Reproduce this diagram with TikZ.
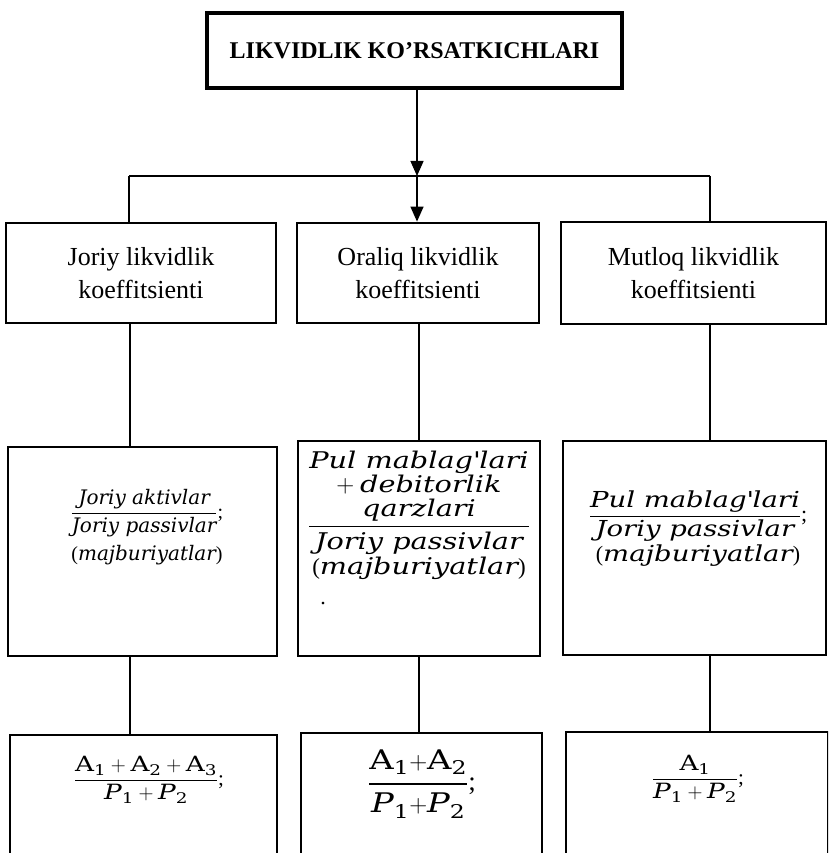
\documentclass[tikz,border=0pt]{standalone}
\usepackage{fontspec}
\usepackage{amsmath}
\setmainfont{Liberation Serif}
\newfontfamily\formfont[FakeStretch=1.25]{DejaVu Serif}
\newfontfamily\formfontn{DejaVu Serif}
\usetikzlibrary{arrows.meta}

% harflar: A -- tik, P -- kursiv
\newcommand{\vA}[1]{\text{\formfont A}_{\text{\formfont #1}}}
\newcommand{\vP}[1]{\text{\formfont\itshape P}_{\text{\formfont #1}}}
\newcommand{\w}[1]{\text{\formfont\itshape #1}}
\newcommand{\wn}[1]{\text{\formfontn\itshape #1}}

\tikzset{
  headbox/.style={draw, line width=3.6pt, minimum width=415pt, minimum height=75pt,
    font=\fontsize{24}{27}\selectfont\bfseries},
  koefbox/.style={draw, line width=2.8pt, minimum height=100pt, align=center,
    font=\fontsize{26}{33}\selectfont},
  formbox/.style={draw, line width=1.3pt},
  formtext/.style={align=center, inner sep=0pt},
  link/.style={line width=1.3pt},
  tip/.style={-{Triangle[length=15pt,width=13pt]}},
}

\begin{document}
\begin{tikzpicture}[x=1pt,y=-1pt]
  \useasboundingbox (0,0) rectangle (828,853);
  \clip (0,0) rectangle (828,853);

  \node[headbox] (head) at (414.5,50.5) {LIKVIDLIK KO’RSATKICHLARI};

  \coordinate (split) at (417,176);
  \coordinate (splitL) at (129,176);
  \coordinate (splitR) at (710,176);
  \coordinate (colL) at (130,0);
  \coordinate (colM) at (419,0);
  \coordinate (colR) at (710,0);

  % koeffitsientlar
  \node[koefbox, minimum width=270pt] (joriy) at (141,273) {Joriy likvidlik\\koeffitsienti};
  \node[koefbox, minimum width=242pt] (oraliq) at (418,273) {Oraliq likvidlik\\koeffitsienti};
  \node[koefbox, minimum width=265pt, minimum height=102pt] (mutloq) at (693.5,273) {Mutloq likvidlik\\koeffitsienti};

  % formulalar (so'zda)
  \node[formbox, minimum width=269pt, minimum height=209pt] (joriyF) at (142.5,551.5) {};
  \node[formbox, minimum width=242pt, minimum height=215pt] (oraliqF) at (419,548.5) {};
  \node[formbox, minimum width=263pt, minimum height=214pt] (mutloqF) at (694.5,548) {};

  \node[formtext, font=\fontsize{20}{30}\selectfont] (joriyT) at (147,527)
    {$\dfrac{\wn{Joriy aktivlar}}{\wn{Joriy passivlar}}$;\\[7pt](\wn{majburiyatlar})};
  \node[formtext, font=\fontsize{23}{25}\selectfont] (oraliqT) at (419,515)
    {$\dfrac{\renewcommand{\arraystretch}{0.86}\begin{array}{@{}c@{}}
        \w{Pul mablag\textquotesingle lari}\\ +\ \w{debitorlik}\\ \w{qarzlari}\end{array}}
      {\w{Joriy passivlar}}$\\[1pt](\w{majburiyatlar})};
  \node[formtext, font=\fontsize{22}{26}\selectfont] (oraliqDot) at (323,604) {.};
  \node[formtext, font=\fontsize{22}{32}\selectfont] (mutloqT) at (698,529)
    {$\dfrac{\w{Pul mablag\textquotesingle lari}}{\w{Joriy passivlar}}$;\\[3pt](\w{majburiyatlar})};

  % formulalar (belgilarda)
  \node[formbox, minimum width=267pt, minimum height=200pt] (joriyB) at (143.5,835) {};
  \node[formbox, minimum width=241pt, minimum height=200pt] (oraliqB) at (421.5,833) {};
  \node[formbox, minimum width=262pt, minimum height=200pt] (mutloqB) at (697,832) {};

  \node[formtext, font=\fontsize{21}{26}\selectfont] (joriyS) at (149,780)
    {$\dfrac{\vA{1}+\vA{2}+\vA{3}}{\vP{1}+\vP{2}}$;};
  \node[formtext, font=\fontsize{27}{32}\selectfont] (oraliqS) at (422,784)
    {$\genfrac{}{}{2.6pt}{0}{\vA{1}{+}\vA{2}}{\vP{1}{+}\vP{2}}$;};
  \node[formtext, font=\fontsize{21}{26}\selectfont] (mutloqS) at (698,779)
    {$\dfrac{\vA{1}}{\vP{1}+\vP{2}}$;};

  \begin{scope}[link]
    \draw[tip] (head.south -| split) to (split);
    \draw (splitL) to (splitR);
    \draw (splitL) to (splitL |- joriy.north);
    \draw (splitR) to (splitR |- mutloq.north);
    \draw[tip] (split) to (split |- oraliq.north);
    \draw (joriy.south -| colL) to (joriyF.north -| colL);
    \draw (oraliq.south -| colM) to (oraliqF.north -| colM);
    \draw (mutloq.south -| colR) to (mutloqF.north -| colR);
    \draw (joriyF.south -| colL) to (joriyB.north -| colL);
    \draw (oraliqF.south -| colM) to (oraliqB.north -| colM);
    \draw (mutloqF.south -| colR) to (mutloqB.north -| colR);
  \end{scope}
\end{tikzpicture}
\end{document}
